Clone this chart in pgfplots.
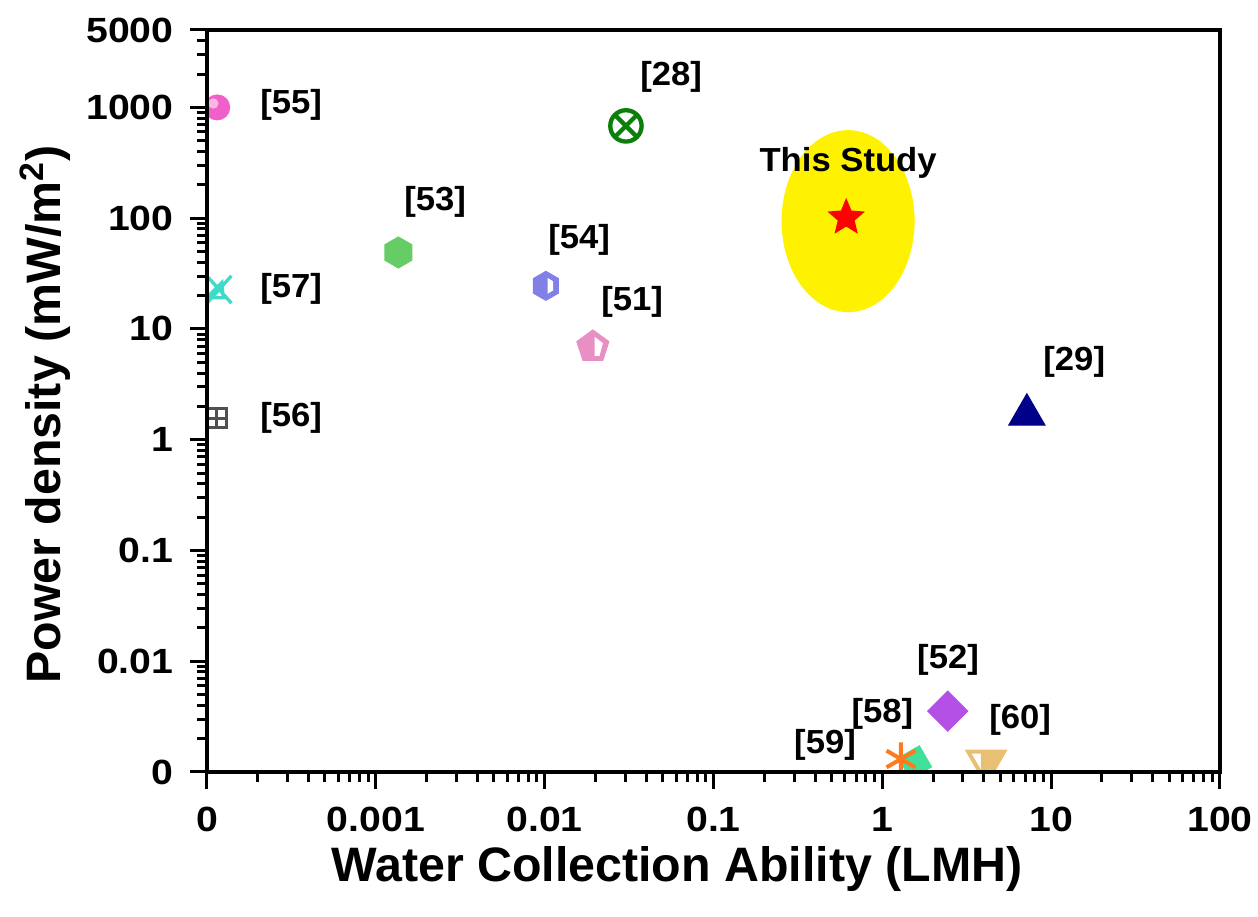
\documentclass[border=0pt]{standalone}
\usepackage{fontspec}
\setmainfont{Liberation Sans}
\usepackage{pgfplots}
\pgfplotsset{compat=1.18}
\usetikzlibrary{plotmarks}

\definecolor{cPink}{HTML}{F060C8}
\definecolor{cTurq}{HTML}{3EDCC8}
\definecolor{cGray}{HTML}{505050}
\definecolor{cGreen}{HTML}{66CC66}
\definecolor{cDGreen}{HTML}{0A7F0A}
\definecolor{cBlue}{HTML}{8080E6}
\definecolor{cPink2}{HTML}{E890C4}
\definecolor{cNavy}{HTML}{000088}
\definecolor{cPurple}{HTML}{B450E6}
\definecolor{cSpring}{HTML}{40E09A}
\definecolor{cOrange}{HTML}{FF7A1E}
\definecolor{cTan}{HTML}{E8C074}

\pgfdeclareplotmark{glossy}{%
  \pgfpathcircle{\pgfpointorigin}{\pgfplotmarksize}\pgfusepathqfill
  \pgfsetfillcolor{white}\pgfsetfillopacity{0.55}%
  \pgfpathcircle{\pgfpoint{-0.3\pgfplotmarksize}{0.3\pgfplotmarksize}}{0.4\pgfplotmarksize}\pgfusepathqfill}

\pgfdeclareplotmark{boxplus}{%
  \pgfpathrectangle{\pgfpoint{-\pgfplotmarksize}{-\pgfplotmarksize}}{\pgfpoint{2\pgfplotmarksize}{2\pgfplotmarksize}}%
  \pgfpathmoveto{\pgfpoint{-\pgfplotmarksize}{0pt}}\pgfpathlineto{\pgfpoint{\pgfplotmarksize}{0pt}}%
  \pgfpathmoveto{\pgfpoint{0pt}{-\pgfplotmarksize}}\pgfpathlineto{\pgfpoint{0pt}{\pgfplotmarksize}}%
  \pgfusepathqstroke}

\pgfdeclareplotmark{xtri}{%
  \pgfpathmoveto{\pgfpoint{-0.9\pgfplotmarksize}{-\pgfplotmarksize}}\pgfpathlineto{\pgfpoint{0.9\pgfplotmarksize}{\pgfplotmarksize}}%
  \pgfpathmoveto{\pgfpoint{-0.9\pgfplotmarksize}{\pgfplotmarksize}}\pgfpathlineto{\pgfpoint{0.9\pgfplotmarksize}{-\pgfplotmarksize}}%
  \pgfpathmoveto{\pgfpoint{-0.9\pgfplotmarksize}{-0.6\pgfplotmarksize}}%
  \pgfpathlineto{\pgfpoint{0.2\pgfplotmarksize}{0.5\pgfplotmarksize}}%
  \pgfpathlineto{\pgfpoint{0.3\pgfplotmarksize}{-0.6\pgfplotmarksize}}\pgfpathclose
  \pgfusepathqstroke}

\pgfdeclareplotmark{hexa}{%
  \pgfpathmoveto{\pgfpointpolar{90}{\pgfplotmarksize}}%
  \pgfpathlineto{\pgfpointpolar{150}{\pgfplotmarksize}}%
  \pgfpathlineto{\pgfpointpolar{210}{\pgfplotmarksize}}%
  \pgfpathlineto{\pgfpointpolar{270}{\pgfplotmarksize}}%
  \pgfpathlineto{\pgfpointpolar{330}{\pgfplotmarksize}}%
  \pgfpathlineto{\pgfpointpolar{30}{\pgfplotmarksize}}%
  \pgfpathclose\pgfusepathqfillstroke}

\pgfdeclareplotmark{hexhalf}{%
  \pgfpathmoveto{\pgfpointpolar{90}{\pgfplotmarksize}}%
  \pgfpathlineto{\pgfpointpolar{150}{\pgfplotmarksize}}%
  \pgfpathlineto{\pgfpointpolar{210}{\pgfplotmarksize}}%
  \pgfpathlineto{\pgfpointpolar{270}{\pgfplotmarksize}}%
  \pgfpathlineto{\pgfpointpolar{330}{\pgfplotmarksize}}%
  \pgfpathlineto{\pgfpointpolar{30}{\pgfplotmarksize}}%
  \pgfpathclose\pgfusepathqfillstroke
  \pgfsetfillcolor{white}%
  \pgfpathmoveto{\pgfpoint{0.12\pgfplotmarksize}{0.55\pgfplotmarksize}}%
  \pgfpathlineto{\pgfpoint{0.5\pgfplotmarksize}{0.32\pgfplotmarksize}}%
  \pgfpathlineto{\pgfpoint{0.5\pgfplotmarksize}{-0.32\pgfplotmarksize}}%
  \pgfpathlineto{\pgfpoint{0.12\pgfplotmarksize}{-0.55\pgfplotmarksize}}%
  \pgfpathclose\pgfusepathqfill}

\pgfdeclareplotmark{penthalf}{%
  \pgfpathmoveto{\pgfpointpolar{90}{\pgfplotmarksize}}%
  \pgfpathlineto{\pgfpointpolar{162}{\pgfplotmarksize}}%
  \pgfpathlineto{\pgfpointpolar{234}{\pgfplotmarksize}}%
  \pgfpathlineto{\pgfpointpolar{306}{\pgfplotmarksize}}%
  \pgfpathlineto{\pgfpointpolar{18}{\pgfplotmarksize}}%
  \pgfpathclose\pgfusepathqfillstroke
  \pgfsetfillcolor{white}%
  \pgfpathmoveto{\pgfpoint{0.1\pgfplotmarksize}{0.6\pgfplotmarksize}}%
  \pgfpathlineto{\pgfpoint{0.6\pgfplotmarksize}{0.22\pgfplotmarksize}}%
  \pgfpathlineto{\pgfpoint{0.4\pgfplotmarksize}{-0.55\pgfplotmarksize}}%
  \pgfpathlineto{\pgfpoint{0.1\pgfplotmarksize}{-0.55\pgfplotmarksize}}%
  \pgfpathclose\pgfusepathqfill}

\pgfdeclareplotmark{star5}{%
  \pgfpathmoveto{\pgfpointpolar{90}{\pgfplotmarksize}}%
  \pgfpathlineto{\pgfpointpolar{126}{0.45\pgfplotmarksize}}%
  \pgfpathlineto{\pgfpointpolar{162}{\pgfplotmarksize}}%
  \pgfpathlineto{\pgfpointpolar{198}{0.45\pgfplotmarksize}}%
  \pgfpathlineto{\pgfpointpolar{234}{\pgfplotmarksize}}%
  \pgfpathlineto{\pgfpointpolar{270}{0.45\pgfplotmarksize}}%
  \pgfpathlineto{\pgfpointpolar{306}{\pgfplotmarksize}}%
  \pgfpathlineto{\pgfpointpolar{342}{0.45\pgfplotmarksize}}%
  \pgfpathlineto{\pgfpointpolar{18}{\pgfplotmarksize}}%
  \pgfpathlineto{\pgfpointpolar{54}{0.45\pgfplotmarksize}}%
  \pgfpathclose\pgfusepathqfillstroke}

\pgfdeclareplotmark{dtrihalf}{%
  \pgfpathmoveto{\pgfpoint{-0.87\pgfplotmarksize}{0.5\pgfplotmarksize}}%
  \pgfpathlineto{\pgfpoint{0.87\pgfplotmarksize}{0.5\pgfplotmarksize}}%
  \pgfpathlineto{\pgfpoint{0pt}{-\pgfplotmarksize}}%
  \pgfpathclose\pgfusepathqstroke
  \pgfpathmoveto{\pgfpoint{-0.25\pgfplotmarksize}{0.5\pgfplotmarksize}}%
  \pgfpathlineto{\pgfpoint{0.87\pgfplotmarksize}{0.5\pgfplotmarksize}}%
  \pgfpathlineto{\pgfpoint{0pt}{-\pgfplotmarksize}}%
  \pgfpathlineto{\pgfpoint{-0.25\pgfplotmarksize}{-0.6\pgfplotmarksize}}%
  \pgfpathclose\pgfusepathqfill}

\begin{document}
\begin{tikzpicture}
\useasboundingbox (-62.1pt,-43.5pt) rectangle (315.3pt,231.6pt);
\begin{axis}[
  at={(0,0)}, anchor=south west,
  scale only axis, width=303.9pt, height=222.6pt,
  xmode=log, ymode=log,
  xmin=1e-4, xmax=100, ymin=1e-3, ymax=5000,
  xtick={1e-4,1e-3,0.01,0.1,1,10,100},
  xticklabels={\textbf{0},\textbf{0.001},\textbf{0.01},\textbf{0.1},\textbf{1},\textbf{10},\textbf{100}},
  ytick={1e-3,0.01,0.1,1,10,100,1000,5000},
  yticklabels={\textbf{0},\textbf{0.01},\textbf{0.1},\textbf{1},\textbf{10},\textbf{100},\textbf{1000},\textbf{5000}},
  minor xtick={2e-4,3e-4,4e-4,5e-4,6e-4,7e-4,8e-4,9e-4,
    2e-3,3e-3,4e-3,5e-3,6e-3,7e-3,8e-3,9e-3,
    0.02,0.03,0.04,0.05,0.06,0.07,0.08,0.09,
    0.2,0.3,0.4,0.5,0.6,0.7,0.8,0.9,
    2,3,4,5,6,7,8,9,20,30,40,50,60,70,80,90},
  minor ytick={2e-3,3e-3,4e-3,5e-3,6e-3,7e-3,8e-3,9e-3,
    0.02,0.03,0.04,0.05,0.06,0.07,0.08,0.09,
    0.2,0.3,0.4,0.5,0.6,0.7,0.8,0.9,
    2,3,4,5,6,7,8,9,20,30,40,50,60,70,80,90,
    200,300,400,500,600,700,800,900,2000,3000,4000},
  xtick align=outside, ytick align=outside, tick pos=left,
  major tick length=5pt, minor tick length=3pt,
  every tick/.append style={black, line width=0.9pt},
  axis line style={line width=1.2pt},
  axis on top,
  clip marker paths=true,
  tick label style={font=\fontsize{10.5}{12}\selectfont\bfseries, xscale=1.12},
  xticklabel style={yshift=-2pt},
  yticklabel style={xshift=-1pt},
  label style={font=\fontsize{14.5}{16}\selectfont\bfseries},
  xlabel={Water Collection Ability (LMH)},
  ylabel={Power density (mW/m\textsuperscript{2})},
  xlabel style={at={([xshift=-11pt,yshift=-29pt]axis description cs:0.5,0)}, anchor=center},
  ylabel style={at={([xshift=-48.6pt,yshift=-4pt]axis description cs:0,0.5)}, anchor=center},
]
\fill[yellow] (axis cs:0.627,94) ellipse [x radius=19.95pt, y radius=27.3pt];

% [55]
\addplot[only marks, mark=glossy, mark size=3.9pt, color=cPink, fill=cPink] coordinates {(1.15e-4,1000)};
% [57]
\addplot[only marks, mark=xtri, mark size=4.1pt, color=cTurq, line width=1pt] coordinates {(1.18e-4,22.7)};
% [56]
\addplot[only marks, mark=boxplus, mark size=2.9pt, color=cGray, line width=0.9pt] coordinates {(1.14e-4,1.56)};
% [53]
\addplot[only marks, mark=hexa, mark size=4.6pt, color=cGreen, fill=cGreen] coordinates {(0.00136,49)};
% [28]
\addplot[only marks, mark=otimes, mark size=4.7pt, color=cDGreen, line width=1.3pt] coordinates {(0.0303,681)};
% [54]
\addplot[only marks, mark=hexhalf, mark size=4.3pt, color=cBlue, fill=cBlue] coordinates {(0.01017,24.5)};
% [51]
\addplot[only marks, mark=penthalf, mark size=5pt, color=cPink2, fill=cPink2] coordinates {(0.0193,6.9)};
% This Study
\addplot[only marks, mark=star5, mark size=5.4pt, color=red, fill=red] coordinates {(0.611,101)};
% [29]
\addplot[only marks, mark=triangle*, mark size=6.2pt, color=cNavy, fill=cNavy] coordinates {(7.18,1.68)};
% [52]
\addplot[only marks, mark=square*, mark size=4.2pt, mark options={rotate=45}, color=cPurple, fill=cPurple] coordinates {(2.44,0.00355)};
% [58]
\addplot[only marks, mark=square*, mark size=3.6pt, mark options={rotate=30}, color=cSpring, fill=cSpring] coordinates {(1.56,0.00122)};
% [59]
\addplot[only marks, mark=asterisk, mark size=5pt, color=cOrange, line width=1.2pt] coordinates {(1.29,0.00131)};
% [60]
\addplot[only marks, mark=dtrihalf, mark size=6.2pt, color=cTan, fill=cTan, line width=1.2pt] coordinates {(4.12,0.00123)};

\begin{scope}[every node/.style={font=\fontsize{10}{12}\selectfont\bfseries, anchor=center, xscale=1.04}]
\node at (axis cs:3.15e-4,1047) {[55]};
\node at (axis cs:0.0561,1874) {[28]};
\node at (axis cs:0.627,313) {This Study};
\node at (axis cs:0.002245,139) {[53]};
\node at (axis cs:0.016,63.3) {[54]};
\node at (axis cs:3.15e-4,22.9) {[57]};
\node at (axis cs:0.033,17.5) {[51]};
\node at (axis cs:13.7,5.02) {[29]};
\node at (axis cs:3.15e-4,1.57) {[56]};
\node at (axis cs:2.45,0.01025) {[52]};
\node at (axis cs:1.0,0.00334) {[58]};
\node at (axis cs:6.55,0.00295) {[60]};
\node at (axis cs:0.458,0.00175) {[59]};
\end{scope}
\end{axis}
\end{tikzpicture}
\end{document}
